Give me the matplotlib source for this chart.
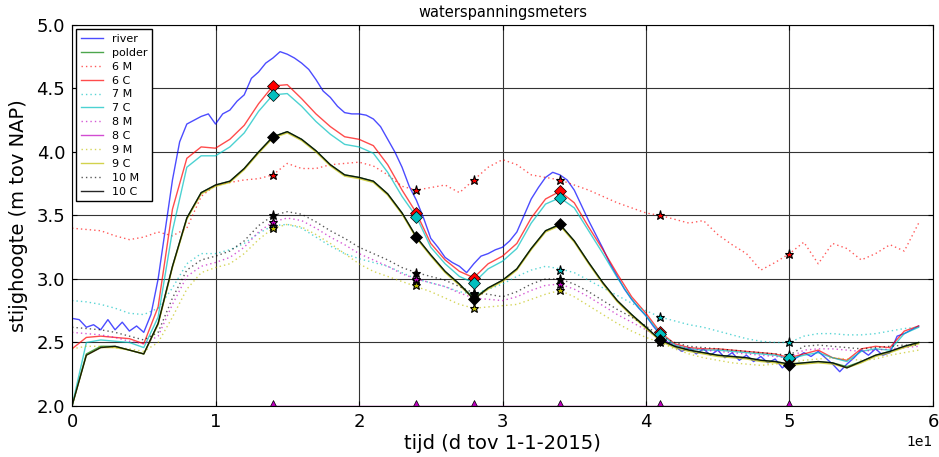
import matplotlib
matplotlib.use('Agg')
import matplotlib.pyplot as plt
import numpy as np

# tijd in dagen t.o.v. 1-1-2015
dagen = np.arange(0, 60)
dagen_rivier = np.arange(0, 59.5, 0.5)

# rivierpeil (halve-dag waarden)
rivier = [
    2.69, 2.68, 2.62, 2.64, 2.60, 2.68, 2.60, 2.66, 2.59, 2.63,
    2.58, 2.72, 3.00, 3.39, 3.78, 4.08, 4.22, 4.25, 4.28, 4.30,
    4.22, 4.30, 4.33, 4.40, 4.45, 4.58, 4.63, 4.70, 4.74, 4.79,
    4.77, 4.74, 4.70, 4.65, 4.57, 4.48, 4.43, 4.36, 4.31, 4.30,
    4.30, 4.29, 4.26, 4.20, 4.10, 4.00, 3.88, 3.73, 3.62, 3.48,
    3.32, 3.25, 3.17, 3.13, 3.10, 3.05, 3.12, 3.18, 3.20, 3.23,
    3.25, 3.30, 3.37, 3.50, 3.63, 3.72, 3.80, 3.84, 3.82, 3.78,
    3.70, 3.58, 3.46, 3.35, 3.24, 3.12, 3.02, 2.92, 2.84, 2.77,
    2.71, 2.63, 2.56, 2.50, 2.47, 2.43, 2.46, 2.41, 2.45, 2.40,
    2.44, 2.38, 2.42, 2.36, 2.40, 2.35, 2.39, 2.34, 2.37, 2.30,
    2.35, 2.38, 2.42, 2.39, 2.43, 2.38, 2.33, 2.27, 2.33, 2.38,
    2.44, 2.40, 2.45, 2.40, 2.42, 2.55, 2.57, 2.60, 2.63,
]

polder = [
    2.00, 2.41, 2.47, 2.47, 2.44, 2.41, 2.65, 3.10, 3.48, 3.68,
    3.74, 3.77, 3.87, 4.00, 4.12, 4.16, 4.10, 4.01, 3.90, 3.82,
    3.80, 3.77, 3.67, 3.52, 3.33, 3.19, 3.06, 2.96, 2.85, 2.93,
    2.99, 3.08, 3.24, 3.38, 3.43, 3.30, 3.13, 2.97, 2.83, 2.72,
    2.62, 2.52, 2.47, 2.44, 2.42, 2.40, 2.39, 2.38, 2.36, 2.35,
    2.33, 2.34, 2.35, 2.34, 2.31, 2.35, 2.40, 2.43, 2.47, 2.50,
]

m6 = [
    3.40, 3.39, 3.38, 3.34, 3.31, 3.33, 3.37, 3.34, 3.40, 3.65,
    3.74, 3.76, 3.78, 3.79, 3.82, 3.91, 3.87, 3.87, 3.90, 3.91,
    3.92, 3.89, 3.82, 3.73, 3.70, 3.72, 3.74, 3.68, 3.78, 3.88,
    3.94, 3.90, 3.82, 3.80, 3.78, 3.74, 3.70, 3.65, 3.60, 3.56,
    3.52, 3.50, 3.47, 3.44, 3.46, 3.35, 3.27, 3.20, 3.07, 3.13,
    3.20, 3.29, 3.12, 3.28, 3.24, 3.15, 3.20, 3.27, 3.22, 3.44,
]
c6 = [
    2.45, 2.54, 2.55, 2.54, 2.53, 2.49, 2.78, 3.55, 3.95, 4.04,
    4.03, 4.10, 4.21, 4.38, 4.52, 4.53, 4.42, 4.30, 4.20, 4.12,
    4.10, 4.05, 3.90, 3.70, 3.52, 3.28, 3.15, 3.06, 3.01, 3.12,
    3.18, 3.28, 3.48, 3.63, 3.69, 3.60, 3.41, 3.23, 3.04, 2.86,
    2.73, 2.58, 2.49, 2.46, 2.45, 2.45, 2.44, 2.43, 2.42, 2.41,
    2.38, 2.41, 2.44, 2.38, 2.36, 2.45, 2.47, 2.46, 2.59, 2.63,
]
m7 = [
    2.83, 2.82, 2.80, 2.77, 2.73, 2.72, 2.77, 2.93, 3.12, 3.20,
    3.20, 3.23, 3.28, 3.36, 3.42, 3.43, 3.40, 3.33, 3.26, 3.20,
    3.16, 3.13, 3.10, 3.05, 3.00, 2.97, 2.94, 2.90, 2.88, 2.92,
    2.96, 3.02, 3.07, 3.10, 3.08, 3.05, 2.99, 2.93, 2.87, 2.81,
    2.75, 2.70, 2.67, 2.64, 2.62, 2.59, 2.56, 2.53, 2.51, 2.50,
    2.50, 2.55, 2.57, 2.57, 2.56, 2.56, 2.57, 2.59, 2.61, 2.62,
]
c7 = [
    2.00, 2.50, 2.52, 2.51, 2.50, 2.46, 2.70, 3.38, 3.88, 3.97,
    3.97, 4.04, 4.15, 4.32, 4.45, 4.46, 4.36, 4.24, 4.14, 4.06,
    4.04, 3.99, 3.84, 3.65, 3.49, 3.25, 3.12, 3.02, 2.97, 3.08,
    3.14, 3.24, 3.44, 3.59, 3.64, 3.56, 3.38, 3.20, 3.01, 2.84,
    2.71, 2.57, 2.48, 2.45, 2.44, 2.44, 2.43, 2.42, 2.41, 2.40,
    2.37, 2.40, 2.42, 2.38, 2.35, 2.43, 2.45, 2.44, 2.57, 2.62,
]
m8 = [
    2.58, 2.57, 2.56, 2.54, 2.51, 2.49, 2.55, 2.80, 3.02, 3.10,
    3.13, 3.17, 3.25, 3.37, 3.45, 3.48, 3.46, 3.40, 3.33, 3.27,
    3.20, 3.15, 3.10, 3.04, 3.00, 2.97, 2.94, 2.89, 2.85, 2.84,
    2.83, 2.86, 2.91, 2.95, 2.96, 2.92, 2.86, 2.79, 2.72, 2.66,
    2.60, 2.53, 2.48, 2.45, 2.44, 2.43, 2.42, 2.41, 2.40, 2.39,
    2.38, 2.44, 2.45, 2.45, 2.44, 2.43, 2.44, 2.45, 2.46, 2.47,
]
m9 = [
    2.45, 2.47, 2.47, 2.46, 2.45, 2.43, 2.50, 2.70, 2.92, 3.05,
    3.09, 3.12, 3.20, 3.31, 3.40, 3.43, 3.41, 3.35, 3.28, 3.20,
    3.12, 3.06, 3.02, 2.98, 2.94, 2.90, 2.85, 2.80, 2.77, 2.78,
    2.79, 2.80, 2.84, 2.88, 2.91, 2.86, 2.79, 2.72, 2.65, 2.59,
    2.54, 2.50, 2.45, 2.41, 2.38, 2.36, 2.34, 2.33, 2.32, 2.33,
    2.34, 2.36, 2.37, 2.38, 2.37, 2.36, 2.37, 2.40, 2.42, 2.44,
]
c9 = [
    2.00, 2.40, 2.46, 2.46, 2.44, 2.41, 2.64, 3.09, 3.47, 3.67,
    3.73, 3.76, 3.86, 3.99, 4.11, 4.15, 4.09, 4.00, 3.89, 3.81,
    3.79, 3.76, 3.66, 3.51, 3.32, 3.18, 3.05, 2.95, 2.84, 2.92,
    2.98, 3.07, 3.23, 3.37, 3.42, 3.29, 3.12, 2.96, 2.82, 2.71,
    2.61, 2.51, 2.46, 2.43, 2.41, 2.39, 2.38, 2.37, 2.35, 2.34,
    2.32, 2.33, 2.34, 2.33, 2.30, 2.34, 2.39, 2.42, 2.46, 2.49,
]
m10 = [
    2.62, 2.61, 2.60, 2.58, 2.55, 2.52, 2.58, 2.85, 3.07, 3.15,
    3.18, 3.22, 3.30, 3.42, 3.50, 3.53, 3.51, 3.45, 3.38, 3.32,
    3.25, 3.20, 3.15, 3.09, 3.05, 3.02, 2.99, 2.94, 2.89, 2.88,
    2.86, 2.90, 2.96, 3.00, 3.00, 2.96, 2.90, 2.83, 2.76, 2.70,
    2.63, 2.55, 2.50, 2.47, 2.46, 2.45, 2.44, 2.43, 2.42, 2.41,
    2.40, 2.47, 2.48, 2.47, 2.46, 2.45, 2.46, 2.47, 2.48, 2.48,
]
c10 = [
    2.00, 2.40, 2.46, 2.47, 2.44, 2.41, 2.65, 3.10, 3.48, 3.68,
    3.74, 3.77, 3.87, 4.00, 4.12, 4.16, 4.10, 4.01, 3.90, 3.82,
    3.80, 3.77, 3.67, 3.52, 3.33, 3.19, 3.06, 2.96, 2.84, 2.93,
    2.99, 3.08, 3.24, 3.38, 3.43, 3.30, 3.13, 2.97, 2.83, 2.72,
    2.62, 2.52, 2.47, 2.44, 2.42, 2.40, 2.39, 2.38, 2.36, 2.35,
    2.33, 2.34, 2.35, 2.34, 2.30, 2.35, 2.40, 2.43, 2.47, 2.50,
]

# handmetingen op de meetdagen
meetdagen = [14, 24, 28, 34, 41, 50]
c6_meting = [4.52, 3.52, 3.01, 3.69, 2.58, 2.37]
c7_meting = [4.45, 3.49, 2.97, 3.64, 2.57, 2.38]
c8_meting = [2.0, 2.0, 2.0, 2.0, 2.0, 2.0]
c10_meting = [4.12, 3.33, 2.84, 3.43, 2.52, 2.32]
m6_meting = [3.82, 3.70, 3.78, 3.78, 3.50, 3.20]
m7_meting = [3.42, 2.99, 2.89, 3.07, 2.70, 2.50]
m8_meting = [3.45, 3.00, 2.86, 2.96, 2.53, 2.38]
m9_meting = [3.40, 2.95, 2.77, 2.91, 2.50, 2.35]
m10_meting = [3.50, 3.05, 2.88, 3.00, 2.55, 2.40]

fig = plt.figure(figsize=(9.39, 4.57), dpi=100)
ax = fig.add_axes([0.0767, 0.1116, 0.9169, 0.8337])

a = 0.7
stip = dict(ls=(0, (1, 2.2)), lw=1, alpha=0.65)
ax.plot(dagen_rivier, rivier, color='b', lw=1, alpha=a, label='river')
ax.plot(dagen, polder, color='g', lw=1, alpha=a, label='polder')
ax.plot(dagen, m6, color='r', label='6 M', **stip)
ax.plot(dagen, c6, color='r', lw=1, alpha=a, label='6 C')
ax.plot(dagen, m7, color='c', label='7 M', **stip)
ax.plot(dagen, c7, color='c', lw=1, alpha=a, label='7 C')
ax.plot(dagen, m8, color='m', label='8 M', **stip)
ax.plot(meetdagen, c8_meting, color='m', lw=1, alpha=a, label='8 C')
ax.plot(dagen, m9, color='y', label='9 M', **stip)
ax.plot(dagen, c9, color='y', lw=1, alpha=a, label='9 C')
ax.plot(dagen, m10, color='k', label='10 M', **stip)
ax.plot(dagen, c10, color='k', lw=1, alpha=0.85, label='10 C')

# meetpunten: sterren voor M, ruiten voor C
for vals, kleur in [(m6_meting, 'r'), (m7_meting, 'c'), (m8_meting, 'm'),
                    (m9_meting, 'y'), (m10_meting, 'k')]:
    ax.plot(meetdagen, vals, ls='none', marker='*', ms=6.5, color=kleur,
            mec='k', mew=0.8)
for vals, kleur in [(c6_meting, 'r'), (c7_meting, 'c'), (c10_meting, 'k')]:
    ax.plot(meetdagen, vals, ls='none', marker='D', ms=6.5, color=kleur,
            mec='k', mew=0.5)
ax.plot(meetdagen, c8_meting, ls='none', marker='^', ms=8, color='m',
        mec='k', mew=0.5)

ax.set_xlim(0, 60)
ax.set_ylim(2.0, 5.0)
ax.set_xticks(np.arange(0, 61, 10))
ax.set_yticks(np.arange(2.0, 5.01, 0.5))
ax.ticklabel_format(axis='x', style='sci', scilimits=(-1, 1))
ax.xaxis.get_offset_text().set_fontsize(10)
ax.tick_params(direction='in', top=True, right=True, labelsize=13, pad=5)
ax.grid(True, color='0.2', ls='-', lw=0.8)
ax.set_axisbelow(True)

ax.set_title('waterspanningsmeters', fontsize=10.5)
ax.set_xlabel('tijd (d tov 1-1-2015)', fontsize=14, labelpad=2)
ax.set_ylabel('stijghoogte (m tov NAP)', fontsize=14, labelpad=6)

leg = ax.legend(loc='upper left', fontsize=8, labelspacing=0.35,
                fancybox=False, framealpha=1, borderaxespad=0.4)
leg.get_frame().set_edgecolor('k')

fig.savefig('out.png', dpi=100)
